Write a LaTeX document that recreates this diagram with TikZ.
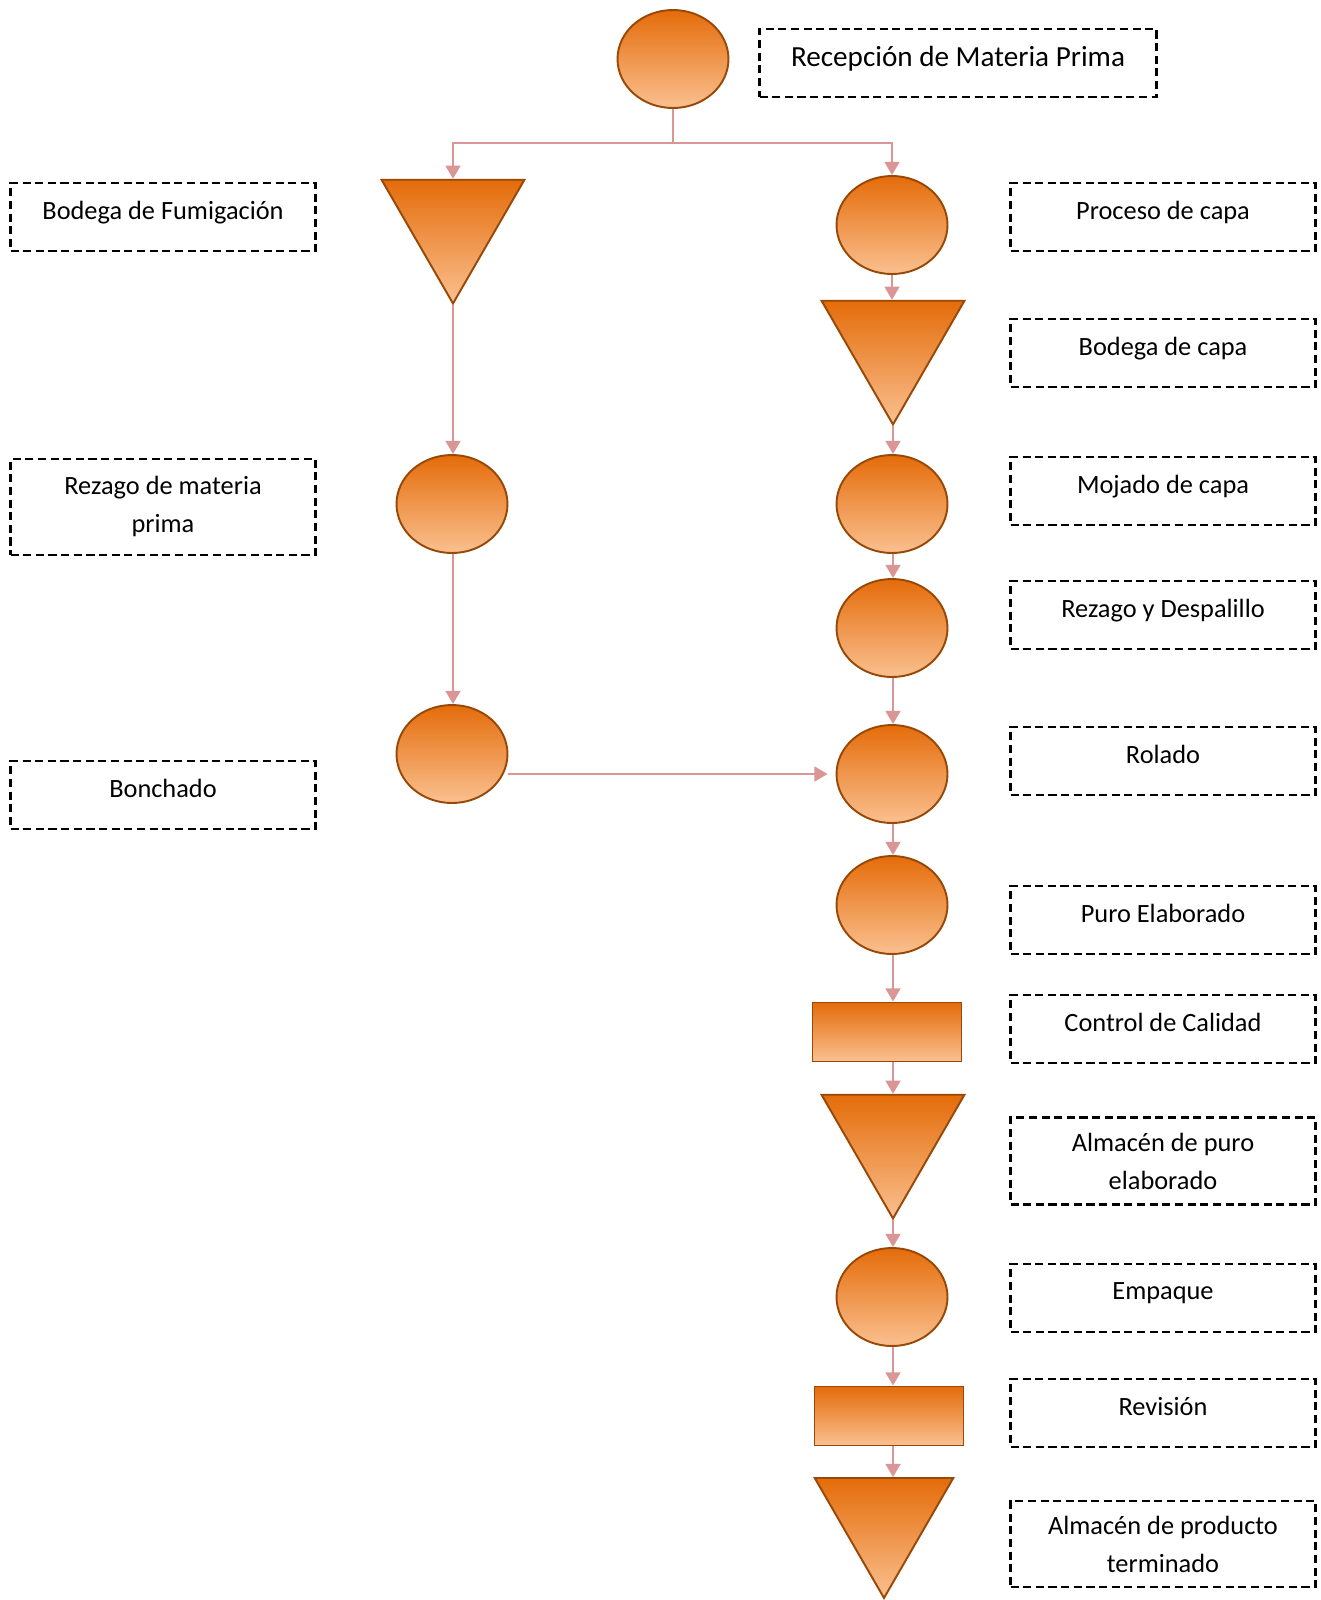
\documentclass[tikz,border=0pt]{standalone}
\usepackage{fontspec}
\setmainfont{Carlito}
\usepackage{xcolor}
\usepackage{tikz}
\usetikzlibrary{arrows.meta,shapes.geometric,positioning}
\definecolor{orgtop}{HTML}{E46C0A}
\definecolor{orgbot}{HTML}{FAC090}
\definecolor{orgline}{HTML}{984807}
\definecolor{flowcol}{HTML}{D99694}

\begin{document}
\begin{tikzpicture}[x=0.02cm,y=-0.02cm,
  proc/.style={ellipse,draw=orgline,line width=1.1pt,top color=orgtop,bottom color=orgbot,
    minimum width=2.22cm,minimum height=1.96cm,inner sep=0pt},
  store/.style={regular polygon,regular polygon sides=3,shape border rotate=180,draw=orgline,
    line width=1.1pt,top color=orgtop,bottom color=orgbot,minimum size=3.3cm,inner sep=0pt},
  insp/.style={rectangle,draw=orgline,line width=1.1pt,top color=orgtop,bottom color=orgbot,
    minimum width=2.98cm,minimum height=1.18cm,inner sep=0pt},
  lbl/.style={draw,line width=1.5pt,dash pattern=on 4.6pt off 2.6pt,minimum width=6.1cm,
    minimum height=1.36cm,align=center,text depth=2.8mm,font=\fontsize{15}{21.6}\selectfont},
  flow/.style={draw=flowcol,line width=1.1pt,-{Triangle[width=8.5pt,length=7.5pt]}}]
  \useasboundingbox (0,0) rectangle (1320,1600);

  % top
  \node[proc] (recep) at (673,59) {};
  \node[lbl,minimum width=7.94cm,font=\fontsize{16.6}{20}\selectfont] (trecep) at (958,63) {Recepción de Materia Prima};
  \coordinate (split) at (673,143);

  % left branch
  \node[store] (fumig) at (453,221) {};
  \node[proc] (rezmp) at (452,504) {};
  \node[proc] (bonch) at (452,754) {};

  \node[lbl] (tfumig) at (163,217) {Bodega de Fumigación};
  \node[lbl,minimum height=1.92cm,text depth=1.2mm] (trezmp) at (163,507) {Rezago de materia\\prima};
  \node[lbl] (tbonch) at (163,795) {Bonchado};

  % right branch
  \node[proc] (capa) at (892,225) {};
  \node[store] (bcapa) at (893,342) {};
  \node[proc] (mojado) at (892,504) {};
  \node[proc] (despal) at (892,628) {};
  \node[proc] (rolado) at (892,774) {};
  \node[proc] (puro) at (892,905) {};
  \node[insp] (calidad) at (887,1032) {};
  \node[store] (almpuro) at (893,1136) {};
  \node[proc] (empaque) at (892,1297) {};
  \node[insp] (revision) at (889,1416) {};
  \node[store,minimum size=3.2cm] (almprod) at (884,1518) {};

  \node[lbl] (tcapa) at (1163,217) {Proceso de capa};
  \node[lbl] (tbcapa) at (1163,353) {Bodega de capa};
  \node[lbl] (tmojado) at (1163,491) {Mojado de capa};
  \node[lbl] (tdespal) at (1163,615) {Rezago y Despalillo};
  \node[lbl] (trolado) at (1163,761) {Rolado};
  \node[lbl] (tpuro) at (1163,920) {Puro Elaborado};
  \node[lbl] (tcalidad) at (1163,1029) {Control de Calidad};
  \node[lbl,minimum height=1.74cm,text depth=0pt] (talmpuro) at (1163,1161) {Almacén de puro\\elaborado};
  \node[lbl] (tempaque) at (1163,1298) {Empaque};
  \node[lbl] (trevision) at (1163,1413) {Revisión};
  \node[lbl,minimum height=1.72cm,text depth=0pt] (talmprod) at (1163,1544) {Almacén de producto\\terminado};

  % connectors
  \draw[flow] (recep.south) -- (split) -| (fumig.north);
  \draw[flow] (split) -| (capa.north);
  \draw[flow] (fumig.south) -- (fumig.south |- rezmp.north);
  \draw[flow] (rezmp.south -| fumig.south) -- (fumig.south |- bonch.north);
  \draw[flow,shorten >=0.16cm] (bonch.east |- rolado.west) -- (rolado.west);

  \draw[flow] (capa.south) -- (capa.south |- bcapa.north);
  \draw[flow] (bcapa.south) -- (bcapa.south |- mojado.north);
  \draw[flow] (mojado.south -| bcapa.south) -- (bcapa.south |- despal.north);
  \draw[flow] (despal.south -| bcapa.south) -- (bcapa.south |- rolado.north);
  \draw[flow] (rolado.south -| bcapa.south) -- (bcapa.south |- puro.north);
  \draw[flow] (puro.south -| bcapa.south) -- (bcapa.south |- calidad.north);
  \draw[flow] (calidad.south -| bcapa.south) -- (bcapa.south |- almpuro.north);
  \draw[flow] (almpuro.south) -- (almpuro.south |- empaque.north);
  \draw[flow] (empaque.south -| almpuro.south) -- (almpuro.south |- revision.north);
  \draw[flow] (revision.south -| almpuro.south) -- (almpuro.south |- almprod.north);
\end{tikzpicture}
\end{document}
